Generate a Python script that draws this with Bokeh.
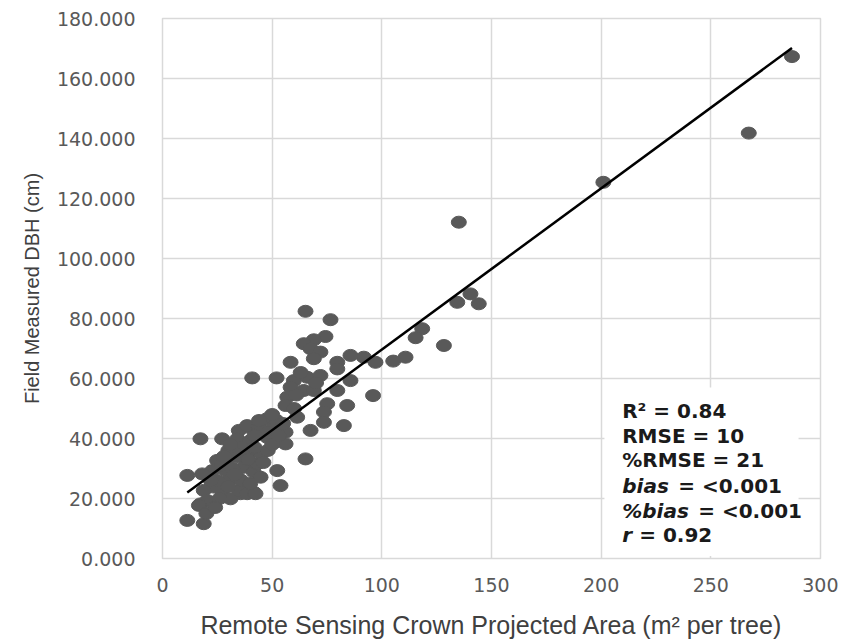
import numpy as np
from bokeh.plotting import figure
from bokeh.models import Range1d, FixedTicker, BoxAnnotation, Label
from bokeh.embed import file_html
from bokeh.resources import INLINE

# ---------------- data ----------------
crown_area = [287.0, 267.3, 201.0, 135.1, 134.4, 140.4, 144.2, 118.4, 115.4, 128.3,
              110.8, 105.2, 97.1, 91.8, 96.0,
              65.2, 76.6, 74.3, 69.0, 64.4, 67.5, 72.0, 69.0, 58.4, 79.7,
              85.7, 40.9, 52.0, 59.9, 66.0, 72.0, 79.7, 85.7, 58.4, 64.4,
              69.0, 56.9, 61.0, 56.1, 75.1, 84.2, 79.7, 73.6, 61.4, 73.6,
              67.5, 82.7, 63.0, 70.0, 60.0,
              47.7, 38.6, 45.0, 51.0, 56.1, 56.1, 47.7, 17.3, 27.2, 34.8,
              38.6, 34.1, 40.1, 43.9, 65.2, 52.3, 53.8, 11.3, 41.6, 35.6,
              17.3, 11.3, 18.8, 52.0, 48.0, 42.0, 36.0, 30.0, 33.0, 38.6,
              34.1, 29.5, 24.9, 22.7, 18.1, 28.7, 30.2, 27.2, 31.0, 34.8,
              38.6, 42.4, 34.1, 37.1, 41.6, 44.7, 43.2, 23.4, 18.8, 20.4,
              16.6, 25.0, 27.0, 32.0, 36.0, 40.0, 39.0, 45.0, 48.0, 50.0,
              46.0, 31.0, 28.0, 22.0, 26.0, 20.0, 24.0, 30.0, 33.0, 42.0,
              53.0, 44.0, 50.0, 55.0]
field_dbh = [167.3, 141.8, 125.4, 112.1, 85.4, 88.2, 84.9, 76.6, 73.6, 71.0,
             67.1, 65.8, 65.4, 67.1, 54.3,
             82.4, 79.6, 74.0, 72.9, 71.6, 69.9, 68.8, 66.6, 65.4, 65.4,
             67.7, 60.2, 60.2, 59.3, 60.4, 61.0, 63.2, 59.3, 57.1, 56.0,
             56.0, 53.8, 54.5, 51.0, 51.6, 51.0, 56.0, 48.8, 47.1, 45.4,
             42.7, 44.3, 62.0, 58.5, 50.0,
             46.6, 43.8, 43.0, 44.3, 42.1, 38.2, 40.4, 39.9, 39.9, 42.7,
             44.3, 39.9, 39.3, 43.8, 33.2, 29.3, 24.3, 27.7, 22.1, 21.6,
             18.2, 12.7, 11.6, 46.0, 42.0, 41.0, 37.0, 36.0, 35.0, 34.3,
             33.8, 33.2, 32.7, 29.3, 28.2, 29.3, 26.0, 22.7, 19.9, 22.7,
             21.6, 21.6, 27.1, 30.4, 28.8, 27.1, 31.6, 23.8, 22.7, 19.3,
             17.7, 26.0, 31.0, 30.0, 26.0, 25.0, 33.0, 35.0, 36.0, 38.0,
             32.0, 38.0, 34.0, 26.0, 20.0, 15.0, 17.0, 24.0, 28.0, 37.0,
             41.0, 46.0, 48.0, 45.0]

fit_slope = 0.5375
fit_intercept = 15.9

x_ticks = [0, 50, 100, 150, 200, 250, 300]
y_ticks = [0, 20, 40, 60, 80, 100, 120, 140, 160, 180]
y_tick_labels = ["0.000", "20.000", "40.000", "60.000", "80.000", "100.000",
                 "120.000", "140.000", "160.000", "180.000"]

stats_italic = ["", "", "", "bias", "%bias", "r"]
stats_rest = ["R\u00b2 = 0.84", "RMSE = 10", "%RMSE = 21", "= <0.001", "= <0.001", "= 0.92"]

# ---------------- figure ----------------
p = figure(width=838, height=641, output_backend="svg", toolbar_location=None,
           x_range=Range1d(0, 300), y_range=Range1d(0, 180),
           min_border_left=162, min_border_right=18, min_border_top=18, min_border_bottom=83)
p.background_fill_color = "white"
p.border_fill_color = "white"
p.outline_line_color = "#d9d9d9"
p.outline_line_width = 1.5

grey = "#d9d9d9"
p.xgrid.grid_line_color = grey
p.ygrid.grid_line_color = grey
p.xgrid.grid_line_width = 1.5
p.ygrid.grid_line_width = 1.5

p.xaxis.ticker = FixedTicker(ticks=x_ticks)
p.yaxis.ticker = FixedTicker(ticks=y_ticks)
p.yaxis.major_label_overrides = {t: l for t, l in zip(y_ticks, y_tick_labels)}
for ax in (p.xaxis, p.yaxis):
    ax.axis_line_color = None
    ax.major_tick_line_color = None
    ax.minor_tick_line_color = None
    ax.major_label_text_font = "DejaVu Sans"
    ax.major_label_text_font_size = "19px"
    ax.major_label_text_color = "#595959"
    ax.axis_label_text_font = "Liberation Sans"
    ax.axis_label_text_font_style = "normal"
    ax.axis_label_text_color = "#404040"
p.yaxis.major_label_standoff = 21
p.xaxis.major_label_standoff = 13
p.xaxis.axis_label = "Remote Sensing Crown Projected Area (m\u00b2 per tree)"
p.yaxis.axis_label = "Field Measured DBH (cm)"
p.xaxis.axis_label_text_font_size = "25px"
p.yaxis.axis_label_text_font_size = "20px"
p.xaxis.axis_label_standoff = 16
p.yaxis.axis_label_standoff = 11

p.ellipse(x=crown_area, y=field_dbh, width=15, height=12,
          width_units="screen", height_units="screen",
          fill_color="#595959", line_color="#595959")

xs = np.array(crown_area)
lx = np.array([xs.min(), xs.max()])
p.line(x=lx, y=fit_slope * lx + fit_intercept, line_color="black", line_width=2.5)

# white text box
p.add_layout(BoxAnnotation(left=201.5, right=290, bottom=0.8, top=57,
                           fill_color="white", fill_alpha=1.0, line_color=None))

line_y = [49.1, 41.0, 32.7, 24.3, 16.0, 7.7]
italic_w = {"": 0, "bias": 56, "%bias": 76, "r": 17}
for it, rest, yy in zip(stats_italic, stats_rest, line_y):
    if it:
        p.add_layout(Label(x=209.6, y=yy, text=it, text_font="DejaVu Sans",
                           text_font_style="bold italic", text_font_size="20px",
                           text_color="#1a1a1a", text_baseline="middle"))
    p.add_layout(Label(x=209.6, y=yy, x_offset=italic_w[it], text=rest,
                       text_font="DejaVu Sans", text_font_style="bold",
                       text_font_size="20px", text_color="#1a1a1a",
                       text_baseline="middle"))

open("out.html", "w").write(file_html(p, INLINE))
